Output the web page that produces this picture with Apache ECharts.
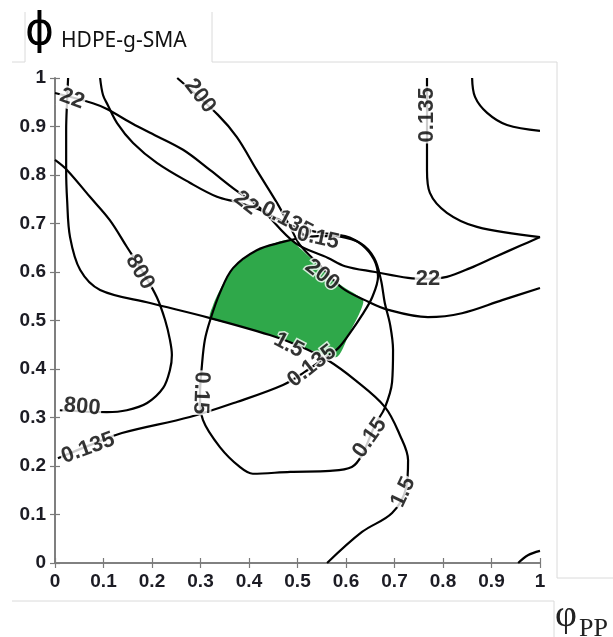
<!DOCTYPE html>
<html><head><meta charset="utf-8">
<script src="https://cdn.jsdelivr.net/npm/echarts@6/dist/echarts.min.js"></script>
<style>html,body{margin:0;padding:0;background:#fff}#c{width:613px;height:637px}</style>
</head><body><div id="c"></div>
<script>
// ---- data (axis units 0..1) ----
const tickValues = [0,0.1,0.2,0.3,0.4,0.5,0.6,0.7,0.8,0.9,1];

const curve1_5 = [[0.027,1.0],[0.025,0.955],[0.023,0.893],[0.023,0.810],[0.025,0.748],[0.031,0.672],[0.052,0.604],[0.093,0.563],[0.196,0.536],[0.320,0.505],[0.443,0.470],[0.505,0.447],[0.561,0.419],[0.619,0.377],[0.680,0.322],[0.711,0.264],[0.728,0.212],[0.724,0.155],[0.695,0.103],[0.633,0.064],[0.561,0]];
const curve22 = [[0,0.969],[0.078,0.948],[0.107,0.936],[0.161,0.905],[0.196,0.887],[0.264,0.852],[0.320,0.810],[0.367,0.773],[0.423,0.732],[0.495,0.660],[0.563,0.629],[0.598,0.612],[0.660,0.600],[0.728,0.588],[0.769,0.586],[0.808,0.590],[0.856,0.608],[0.907,0.631],[0.959,0.654],[1.0,0.672]];
const curve0135R = [[0.767,1.0],[0.767,0.856],[0.767,0.810],[0.773,0.763],[0.808,0.722],[0.870,0.693],[1.0,0.672]];
const curveTopRight = [[0.860,1.0],[0.866,0.961],[0.891,0.928],[0.932,0.903],[1.0,0.891]];
const curveBottomRight = [[0.955,0],[0.975,0.016],[1.0,0.025]];
const curve200 = [[0.252,1.0],[0.336,0.924],[0.375,0.878],[0.416,0.810],[0.458,0.742],[0.485,0.693],[0.505,0.656],[0.546,0.614],[0.592,0.567],[0.639,0.542],[0.687,0.522],[0.769,0.507],[0.839,0.515],[0.922,0.542],[1.0,0.567]];
const curve0135M = [[0.093,1.0],[0.099,0.965],[0.109,0.944],[0.128,0.907],[0.161,0.866],[0.210,0.825],[0.278,0.784],[0.334,0.755],[0.375,0.744],[0.423,0.728],[0.485,0.697],[0.542,0.682],[0.598,0.674],[0.633,0.656],[0.658,0.625],[0.666,0.590],[0.654,0.548],[0.633,0.511],[0.608,0.474],[0.584,0.443],[0.557,0.423],[0.515,0.394],[0.470,0.367],[0.375,0.332],[0.278,0.301],[0.138,0.268],[0.072,0.243],[0.006,0.216]];
const curve0_15 = [[0.584,0.674],[0.629,0.660],[0.658,0.629],[0.672,0.584],[0.680,0.536],[0.691,0.491],[0.697,0.439],[0.695,0.373],[0.680,0.320],[0.660,0.285],[0.633,0.223],[0.612,0.198],[0.567,0.190],[0.485,0.188],[0.408,0.184],[0.381,0.198],[0.340,0.239],[0.305,0.295],[0.299,0.346],[0.303,0.408],[0.309,0.460],[0.320,0.501],[0.340,0.557],[0.367,0.608],[0.416,0.645],[0.470,0.662],[0.505,0.670],[0.542,0.674],[0.584,0.674]];
const curve800 = [[0,0.831],[0.025,0.810],[0.072,0.755],[0.113,0.707],[0.148,0.652],[0.181,0.600],[0.210,0.548],[0.227,0.501],[0.237,0.460],[0.241,0.429],[0.237,0.398],[0.223,0.361],[0.190,0.330],[0.148,0.315],[0.107,0.311],[0.010,0.315]];

const greenRegion = [[0.320,0.505],[0.326,0.532],[0.340,0.563],[0.367,0.608],[0.416,0.645],[0.454,0.660],[0.485,0.666],[0.505,0.649],[0.546,0.612],[0.592,0.571],[0.635,0.542],[0.629,0.518],[0.608,0.476],[0.581,0.425],[0.526,0.439],[0.443,0.470],[0.381,0.489]];

const labelTexts = ['22','200','22','0.135','0.15','200','22','0.135','800','800','0.135','0.15','1.5','0.135','0.15','1.5'];
const labelPos = [[0.035,0.957],[0.299,0.963],[0.394,0.742],[0.478,0.707],[0.542,0.670],[0.551,0.594],[0.769,0.586],[0.767,0.924],[0.175,0.600],[0.056,0.322],[0.068,0.237],[0.301,0.351],[0.482,0.449],[0.530,0.406],[0.649,0.258],[0.718,0.146]];
const labelAngles = [-20,-52,-38,-28,-12,-38,0,90,-60,-5,20,-92,-28,38,55,65];

// ---- chart ----
const contours = [curve1_5, curve22, curve0135R, curveTopRight, curveBottomRight, curve200, curve0135M, curve0_15, curve800];
const haloLabels = [2,3,4,5,12,13];
const fmt = v => (v === 0 ? '0' : v === 1 ? '1' : v.toFixed(1));
const axisCommon = {
  type:'value', min:0, max:1, interval:0.1,
  axisLine:{show:true, lineStyle:{color:'#7a7a7a', width:1.6}},
  axisTick:{show:true, inside:false, length:5, lineStyle:{color:'#7a7a7a', width:1.2}},
  splitLine:{show:false}
};
const lblStyle = {fontFamily:'Liberation Sans', fontSize:19, fontWeight:'bold', color:'#1c1c24'};

const series = [];
series.push({
  type:'custom', z:1, silent:true, data:[[0.5,0.5]],
  renderItem:(params, api) => ({
    type:'polygon',
    shape:{points: greenRegion.map(p => api.coord(p)), smooth:0.25},
    style:{fill:'#2fa84a'}
  })
});
contours.forEach(c => series.push({
  type:'line', data:c, smooth:0.35, symbol:'none', z:3, silent:true,
  lineStyle:{color:'#000', width:2.2}
}));
series.push({
  type:'scatter', z:6, silent:true, symbolSize:1, itemStyle:{color:'rgba(0,0,0,0)'},
  data: labelTexts.map((t,i) => {
    const halo = haloLabels.indexOf(i) >= 0;
    return {
      value: labelPos[i],
      label:{
        show:true, position:'inside', formatter:t, rotate:labelAngles[i],
        fontFamily:'Liberation Sans', fontSize:22, fontWeight:'bold', color:'#000',
        backgroundColor: halo ? 'transparent' : '#fff', padding:[0,1],
        textBorderColor:'#fff', textBorderWidth: halo ? 3 : 0
      }
    };
  })
});

const lineEl = (x1,y1,x2,y2) => ({type:'line', shape:{x1,y1,x2,y2}, style:{stroke:'#dadada', lineWidth:1}, silent:true});

const option = {
  animation:false,
  backgroundColor:'#fff',
  grid:{left:55, top:78, width:485, height:485},
  xAxis:[
    Object.assign({}, axisCommon, {position:'bottom', axisLabel:{show:true, margin:9, formatter:fmt, ...lblStyle}}),
    Object.assign({}, axisCommon, {position:'top', axisLabel:{show:false}})
  ],
  yAxis:[
    Object.assign({}, axisCommon, {position:'left', axisLabel:{show:true, margin:9, formatter:fmt, ...lblStyle}}),
    Object.assign({}, axisCommon, {position:'right', axisLabel:{show:false}})
  ],
  series: series,
  graphic:[
    lineEl(12,62,25,62), lineEl(25,12,25,62), lineEl(212,12,212,62), lineEl(212,62,557,62),
    lineEl(557,62,557,578), lineEl(557,578,613,578), lineEl(12,601,554,601), lineEl(554,601,554,637),
    {type:'text', silent:true, z:10, style:{text:'ϕ', x:25, y:33, fill:'#000', font:'44px "DejaVu Sans"', textVerticalAlign:'middle'}},
    {type:'text', silent:true, z:10, style:{text:'HDPE-g-SMA', x:61, y:41, fill:'#111', font:'21px "Noto Sans"', textVerticalAlign:'middle'}},
    {type:'text', silent:true, z:10, style:{text:'φ', x:555, y:616, fill:'#222', font:'38px "Liberation Serif"', textVerticalAlign:'middle'}},
    {type:'text', silent:true, z:10, style:{text:'PP', x:579, y:629, fill:'#222', font:'26px "Liberation Serif"', textVerticalAlign:'middle'}}
  ]
};
const chart = echarts.init(document.getElementById('c'));
chart.setOption(option);
</script></body></html>
